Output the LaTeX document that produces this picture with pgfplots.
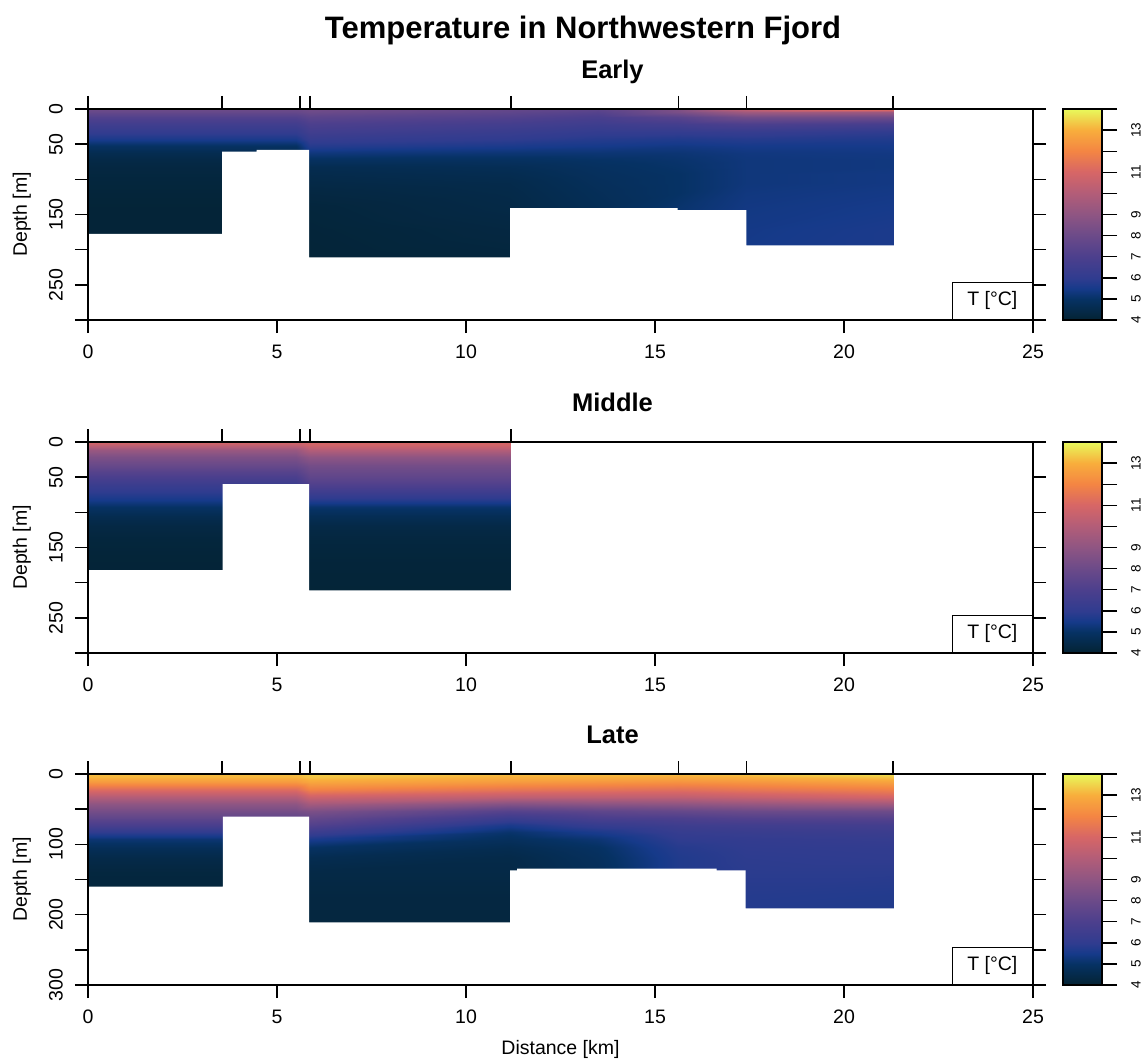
\documentclass[border=0pt]{standalone}
\usepackage{fontspec}
\setmainfont{Liberation Sans}
\usepackage{pgfplots}
\pgfplotsset{compat=1.18}

\pgfplotsset{
  colormap={thermal}{
    rgb255(0pt)=(4,35,51)
    rgb255(10pt)=(6,50,100)
    rgb255(15pt)=(22,58,138)
    rgb255(20pt)=(48,60,143)
    rgb255(30pt)=(76,63,141)
    rgb255(40pt)=(107,74,137)
    rgb255(50pt)=(142,85,131)
    rgb255(60pt)=(179,93,120)
    rgb255(70pt)=(215,102,102)
    rgb255(80pt)=(244,133,67)
    rgb255(90pt)=(248,174,60)
    rgb255(100pt)=(232,250,91)
  },
  panel/.style={
    anchor=north west, scale only axis, width=945pt, height=211pt,
    xmin=0, xmax=25, ymin=0, ymax=300, y dir=reverse,
    axis on top,
    axis line style={line width=1.4pt, black},
    major tick style={line width=1.4pt, black},
    tick align=outside, major tick length=13pt,
    xtick={0,5,...,25}, xtick pos=bottom,
    ytick={0,50,...,300}, ytick pos=both, yticklabel pos=left,
    /pgf/number format/assume math mode=true,
    tick label style={font=\fontsize{19.5}{20}\selectfont, inner sep=0pt},
    xticklabel shift=12pt,
    yticklabel style={rotate=90, anchor=south},
    yticklabel shift=12pt,
    every axis y label/.style={at={(axis description cs:-0.0603,0.5)}, rotate=90, anchor=south, inner sep=0pt, font=\fontsize{19.5}{20}\selectfont},
    ylabel={Depth [m]},
    title style={at={(axis description cs:0.555,1)}, anchor=base, yshift=25pt, inner sep=0pt, font=\bfseries\fontsize{25.5}{27}\selectfont},
    colormap name=thermal, point meta min=4, point meta max=14,
  },
  stations/.style={
    anchor=north west, scale only axis, width=945pt, height=211pt,
    xmin=0, xmax=25, ymin=0, ymax=300,
    axis x line*=top, axis y line=none,
    axis line style={line width=1.4pt, black},
    major tick style={line width=1.4pt, black},
    tick align=outside, major tick length=13pt,
    xticklabels={{},{},{},{},{},{},{},{}},
  },
  cbar/.style={
    anchor=north west, scale only axis, width=39pt, height=211pt,
    xmin=0, xmax=1, ymin=4, ymax=14,
    axis on top,
    xtick=\empty,
    ytick={4,5,6,7,8,9,10,11,12,13,14},
    yticklabels={4,5,6,7,8,9,{},11,{},13,{}},
    ytick pos=right, yticklabel pos=right,
    tick align=outside, major tick length=15pt,
    yticklabel style={rotate=90, anchor=north, font=\fontsize{13.5}{14}\selectfont, inner sep=0pt},
    yticklabel shift=14pt,
    axis line style={line width=1.4pt, black},
    major tick style={line width=1.4pt, black},
    colormap name=thermal, point meta min=4, point meta max=14,
  },
}

\newcommand{\colorbarplot}{%
\addplot[surf, shader=interp, mesh/cols=2, point meta=explicit]
 table[row sep=\\, x index=0, y index=1, meta index=2] {
0 4 4\\ 1 4 4\\ 0 5 5\\ 1 5 5\\ 0 6 6\\ 1 6 6\\ 0 7 7\\ 1 7 7\\
0 8 8\\ 1 8 8\\ 0 9 9\\ 1 9 9\\ 0 10 10\\ 1 10 10\\ 0 11 11\\ 1 11 11\\
0 12 12\\ 1 12 12\\ 0 13 13\\ 1 13 13\\ 0 14 14\\ 1 14 14\\
};}

\begin{document}
\begin{tikzpicture}
\path[use as bounding box] (0pt,0pt) rectangle (1145pt,-1060pt);

\node[anchor=base, font=\bfseries\fontsize{31}{33}\selectfont] at (583pt,-38pt) {Temperature in Northwestern Fjord};

% ---------------- Early ----------------
\begin{axis}[panel, at={(88pt,-109pt)}, title={Early},
  yticklabels={0,50,{},150,{},250,{}}]
\addplot[surf, shader=interp, mesh/cols=8, point meta=explicit]
 table[row sep=\\, x index=0, y index=1, meta index=2] {
0 0 8.1\\ 5.5 0 8.1\\ 5.87 0 8.2\\ 11.17 0 7.8\\ 13.5 0 7.6\\ 15.6 0 8.6\\ 17.4 0 10.5\\ 21.3 0 11.8\\
0 4 7.8\\ 5.5 4 7.8\\ 5.87 4 8.0\\ 11.17 4 7.6\\ 13.5 4 7.3\\ 15.6 4 8.4\\ 17.4 4 9.5\\ 21.3 4 9.4\\
0 12 7.2\\ 5.5 12 7.2\\ 5.87 12 7.5\\ 11.17 12 7.2\\ 13.5 12 6.9\\ 15.6 12 7.4\\ 17.4 12 8.2\\ 21.3 12 8.1\\
0 22 6.6\\ 5.5 22 6.6\\ 5.87 22 7.0\\ 11.17 22 6.7\\ 13.5 22 6.5\\ 15.6 22 6.7\\ 17.4 22 7.0\\ 21.3 22 6.8\\
0 32 6.1\\ 5.5 32 6.1\\ 5.87 32 6.6\\ 11.17 32 6.3\\ 13.5 32 6.1\\ 15.6 32 6.1\\ 17.4 32 6.2\\ 21.3 32 6.0\\
0 42 5.6\\ 5.5 42 5.6\\ 5.87 42 6.2\\ 11.17 42 6.0\\ 13.5 42 5.8\\ 15.6 42 5.7\\ 17.4 42 5.8\\ 21.3 42 5.7\\
0 52 4.95\\ 5.5 52 4.95\\ 5.87 52 5.8\\ 11.17 52 5.6\\ 13.5 52 5.5\\ 15.6 52 5.4\\ 17.4 52 5.5\\ 21.3 52 5.5\\
0 62 4.6\\ 5.5 62 4.6\\ 5.87 62 5.3\\ 11.17 62 5.2\\ 13.5 62 5.2\\ 15.6 62 5.2\\ 17.4 62 5.35\\ 21.3 62 5.4\\
0 72 4.4\\ 5.5 72 4.4\\ 5.87 72 4.9\\ 11.17 72 4.9\\ 13.5 72 5.0\\ 15.6 72 5.1\\ 17.4 72 5.3\\ 21.3 72 5.35\\
0 82 4.3\\ 5.5 82 4.3\\ 5.87 82 4.6\\ 11.17 82 4.7\\ 13.5 82 4.9\\ 15.6 82 5.05\\ 17.4 82 5.3\\ 21.3 82 5.35\\
0 92 4.25\\ 5.5 92 4.25\\ 5.87 92 4.5\\ 11.17 92 4.6\\ 13.5 92 4.85\\ 15.6 92 5.0\\ 17.4 92 5.3\\ 21.3 92 5.4\\
0 105 4.2\\ 5.5 105 4.2\\ 5.87 105 4.4\\ 11.17 105 4.5\\ 13.5 105 4.8\\ 15.6 105 5.0\\ 17.4 105 5.3\\ 21.3 105 5.4\\
0 120 4.15\\ 5.5 120 4.15\\ 5.87 120 4.3\\ 11.17 120 4.45\\ 13.5 120 4.75\\ 15.6 120 5.0\\ 17.4 120 5.35\\ 21.3 120 5.45\\
0 140 4.1\\ 5.5 140 4.1\\ 5.87 140 4.2\\ 11.17 140 4.4\\ 13.5 140 4.7\\ 15.6 140 5.1\\ 17.4 140 5.4\\ 21.3 140 5.5\\
0 170 4.1\\ 5.5 170 4.1\\ 5.87 170 4.15\\ 11.17 170 4.3\\ 13.5 170 4.7\\ 15.6 170 5.2\\ 17.4 170 5.45\\ 21.3 170 5.6\\
0 215 4.1\\ 5.5 215 4.1\\ 5.87 215 4.1\\ 11.17 215 4.2\\ 13.5 215 4.7\\ 15.6 215 5.2\\ 17.4 215 5.5\\ 21.3 215 5.6\\
};
\addplot[fill=white, draw=none, forget plot] coordinates {(0,177.5) (3.55,177.5) (3.55,60.5) (4.46,60.5) (4.46,58) (5.85,58) (5.85,211) (11.17,211) (11.17,141) (15.6,141) (15.6,143.6) (17.42,143.6) (17.42,194) (21.5,194) (21.5,300) (0,300)} --cycle;
\node[draw, line width=1.4pt, fill=white, anchor=south east, minimum width=80pt, minimum height=37pt, inner sep=0pt, font=\fontsize{19.5}{20}\selectfont] at (axis cs:25,300) {T [°C]};
\end{axis}
\begin{axis}[stations, at={(88pt,-109pt)}, xtick={0,3.55,5.61,5.87,11.19,15.62,17.42,21.3}]
\end{axis}
\begin{axis}[cbar, at={(1063pt,-109pt)}]
\colorbarplot
\end{axis}

% ---------------- Middle ----------------
\begin{axis}[panel, at={(88pt,-442pt)}, title={Middle},
  yticklabels={0,50,{},150,{},250,{}}]
\addplot[surf, shader=interp, mesh/cols=4, point meta=explicit]
 table[row sep=\\, x index=0, y index=1, meta index=2] {
0 0 11.0\\ 5.5 0 11.0\\ 5.87 0 11.0\\ 11.17 0 11.0\\
0 4 10.4\\ 5.5 4 10.4\\ 5.87 4 10.8\\ 11.17 4 10.8\\
0 12 9.3\\ 5.5 12 9.3\\ 5.87 12 10.0\\ 11.17 12 10.0\\
0 22 8.5\\ 5.5 22 8.5\\ 5.87 22 9.0\\ 11.17 22 9.0\\
0 32 7.9\\ 5.5 32 7.9\\ 5.87 32 8.3\\ 11.17 32 8.3\\
0 42 7.3\\ 5.5 42 7.3\\ 5.87 42 7.9\\ 11.17 42 7.9\\
0 52 6.8\\ 5.5 52 6.8\\ 5.87 52 7.5\\ 11.17 52 7.5\\
0 62 6.3\\ 5.5 62 6.3\\ 5.87 62 7.0\\ 11.17 62 7.0\\
0 72 5.9\\ 5.5 72 5.9\\ 5.87 72 6.4\\ 11.17 72 6.4\\
0 82 5.5\\ 5.5 82 5.5\\ 5.87 82 5.8\\ 11.17 82 5.8\\
0 92 5.0\\ 5.5 92 5.0\\ 5.87 92 5.1\\ 11.17 92 5.1\\
0 105 4.6\\ 5.5 105 4.6\\ 5.87 105 4.7\\ 11.17 105 4.7\\
0 120 4.35\\ 5.5 120 4.35\\ 5.87 120 4.4\\ 11.17 120 4.4\\
0 140 4.2\\ 5.5 140 4.2\\ 5.87 140 4.25\\ 11.17 140 4.25\\
0 170 4.1\\ 5.5 170 4.1\\ 5.87 170 4.15\\ 11.17 170 4.15\\
0 215 4.1\\ 5.5 215 4.1\\ 5.87 215 4.1\\ 11.17 215 4.1\\
};
\addplot[fill=white, draw=none, forget plot] coordinates {(0,182) (3.56,182) (3.56,60) (5.85,60) (5.85,211) (11.4,211) (11.4,300) (0,300)} --cycle;
\node[draw, line width=1.4pt, fill=white, anchor=south east, minimum width=80pt, minimum height=37pt, inner sep=0pt, font=\fontsize{19.5}{20}\selectfont] at (axis cs:25,300) {T [°C]};
\end{axis}
\begin{axis}[stations, at={(88pt,-442pt)}, xtick={0,3.55,5.61,5.87,11.19}]
\end{axis}
\begin{axis}[cbar, at={(1063pt,-442pt)}]
\colorbarplot
\end{axis}

% ---------------- Late ----------------
\begin{axis}[panel, at={(88pt,-774pt)}, title={Late},
  yticklabels={0,{},100,{},200,{},300},
  xlabel={Distance [km]},
  every axis x label/.style={at={(axis description cs:0.5,0)}, anchor=base, yshift=-69pt, inner sep=0pt, font=\fontsize{19.5}{20}\selectfont}]
\addplot[surf, shader=interp, mesh/cols=8, point meta=explicit]
 table[row sep=\\, x index=0, y index=1, meta index=2] {
0 0 13.2\\ 5.5 0 13.2\\ 5.87 0 13.4\\ 11.17 0 13.2\\ 13.5 0 13.2\\ 15.6 0 13.2\\ 17.4 0 13.3\\ 21.3 0 13.7\\
0 4 13.1\\ 5.5 4 13.1\\ 5.87 4 13.3\\ 11.17 4 13.0\\ 13.5 4 13.0\\ 15.6 4 12.9\\ 17.4 4 13.0\\ 21.3 4 13.3\\
0 12 12.5\\ 5.5 12 12.5\\ 5.87 12 12.8\\ 11.17 12 12.5\\ 13.5 12 12.4\\ 15.6 12 12.3\\ 17.4 12 12.4\\ 21.3 12 12.7\\
0 22 11.3\\ 5.5 22 11.3\\ 5.87 22 12.0\\ 11.17 22 11.6\\ 13.5 22 11.5\\ 15.6 22 11.4\\ 17.4 22 11.6\\ 21.3 22 11.9\\
0 32 10.0\\ 5.5 32 10.0\\ 5.87 32 10.7\\ 11.17 32 10.3\\ 13.5 32 10.3\\ 15.6 32 10.3\\ 17.4 32 10.5\\ 21.3 32 10.9\\
0 42 9.0\\ 5.5 42 9.0\\ 5.87 42 9.6\\ 11.17 42 8.7\\ 13.5 42 8.9\\ 15.6 42 9.0\\ 17.4 42 9.2\\ 21.3 42 9.5\\
0 52 8.3\\ 5.5 52 8.3\\ 5.87 52 8.5\\ 11.17 52 7.3\\ 13.5 52 7.6\\ 15.6 52 7.8\\ 17.4 52 8.0\\ 21.3 52 8.1\\
0 62 7.6\\ 5.5 62 7.6\\ 5.87 62 7.8\\ 11.17 62 6.4\\ 13.5 62 6.9\\ 15.6 62 7.0\\ 17.4 62 7.2\\ 21.3 62 7.3\\
0 72 6.9\\ 5.5 72 6.9\\ 5.87 72 7.2\\ 11.17 72 5.6\\ 13.5 72 6.2\\ 15.6 72 6.5\\ 17.4 72 6.6\\ 21.3 72 6.7\\
0 82 6.0\\ 5.5 82 6.0\\ 5.87 82 6.4\\ 11.17 82 5.1\\ 13.5 82 5.6\\ 15.6 82 6.2\\ 17.4 82 6.3\\ 21.3 82 6.4\\
0 92 5.2\\ 5.5 92 5.2\\ 5.87 92 5.6\\ 11.17 92 4.85\\ 13.5 92 5.2\\ 15.6 92 6.0\\ 17.4 92 6.1\\ 21.3 92 6.2\\
0 105 4.75\\ 5.5 105 4.75\\ 5.87 105 4.95\\ 11.17 105 4.6\\ 13.5 105 4.95\\ 15.6 105 5.8\\ 17.4 105 6.0\\ 21.3 105 6.05\\
0 120 4.45\\ 5.5 120 4.45\\ 5.87 120 4.6\\ 11.17 120 4.45\\ 13.5 120 4.85\\ 15.6 120 5.7\\ 17.4 120 5.95\\ 21.3 120 6.0\\
0 140 4.25\\ 5.5 140 4.25\\ 5.87 140 4.4\\ 11.17 140 4.4\\ 13.5 140 4.8\\ 15.6 140 5.7\\ 17.4 140 5.9\\ 21.3 140 5.9\\
0 170 4.15\\ 5.5 170 4.15\\ 5.87 170 4.3\\ 11.17 170 4.3\\ 13.5 170 4.8\\ 15.6 170 5.7\\ 17.4 170 5.8\\ 21.3 170 5.75\\
0 215 4.1\\ 5.5 215 4.1\\ 5.87 215 4.25\\ 11.17 215 4.25\\ 13.5 215 4.8\\ 15.6 215 5.7\\ 17.4 215 5.7\\ 21.3 215 5.7\\
};
\addplot[fill=white, draw=none, forget plot] coordinates {(0,160) (3.57,160) (3.57,60.7) (5.85,60.7) (5.85,211) (11.17,211) (11.17,137) (11.35,137) (11.35,134.6) (16.63,134.6) (16.63,137) (17.4,137) (17.4,191) (21.5,191) (21.5,300) (0,300)} --cycle;
\node[draw, line width=1.4pt, fill=white, anchor=south east, minimum width=80pt, minimum height=37pt, inner sep=0pt, font=\fontsize{19.5}{20}\selectfont] at (axis cs:25,300) {T [°C]};
\end{axis}
\begin{axis}[stations, at={(88pt,-774pt)}, xtick={0,3.55,5.61,5.87,11.19,15.62,17.42,21.3}]
\end{axis}
\begin{axis}[cbar, at={(1063pt,-774pt)}]
\colorbarplot
\end{axis}
\end{tikzpicture}
\end{document}
